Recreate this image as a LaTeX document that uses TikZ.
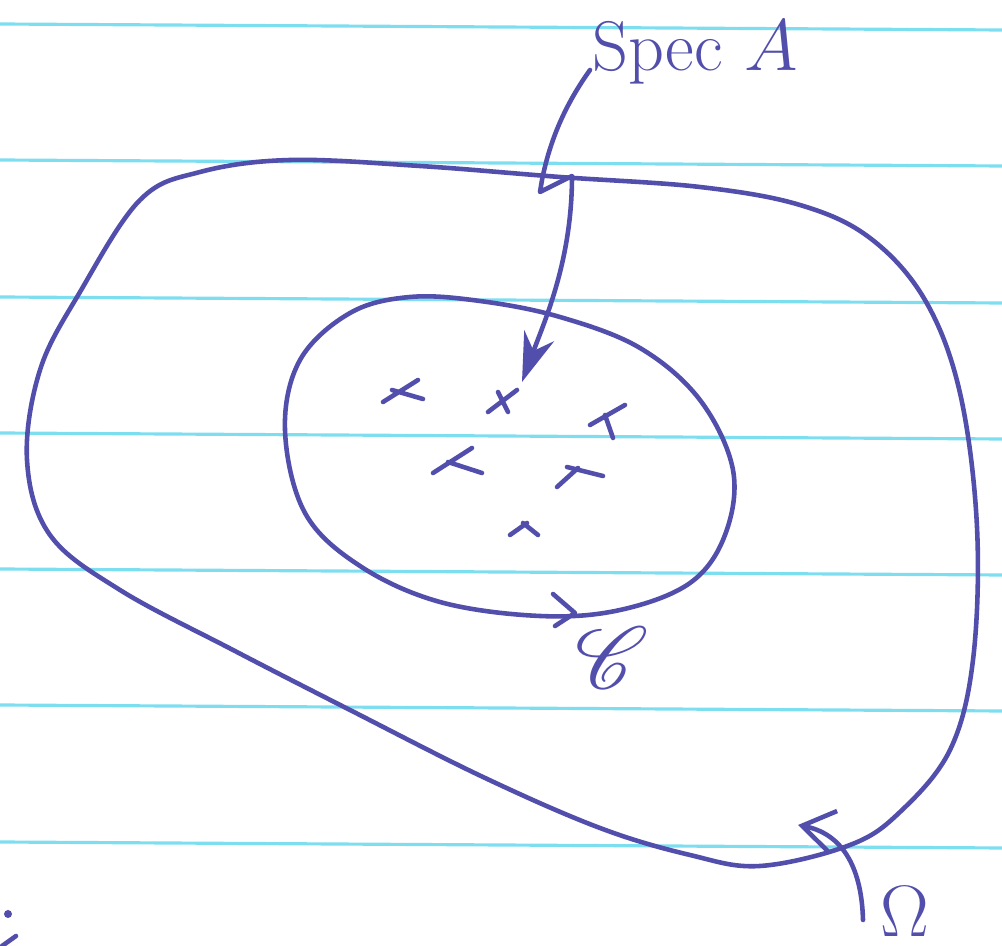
\documentclass[tikz,border=0pt]{standalone}
\usepackage{mathrsfs}
\usetikzlibrary{arrows.meta}
\definecolor{ink}{RGB}{82,78,172}
\definecolor{paperrule}{RGB}{125,222,240}
\tikzset{
  inkline/.style={draw=ink, line width=1.3pt, line cap=round, line join=round},
  paperline/.style={draw=paperrule, line width=0.9pt},
  hand/.style={text=ink, inner sep=0pt},
}
\begin{document}
\begin{tikzpicture}[x=0.01cm, y=-0.01cm]
\useasboundingbox (0,0) rectangle (1002,946);
\fill[white] (0,0) rectangle (1002,946);
% ruled paper
\foreach \yy in {27,163,300,436,572,708,845}
  \draw[paperline] (0,\yy-3) -- (1002,\yy+3);

% outer region Omega
\draw[inkline] plot[smooth cycle, tension=0.6] coordinates {
  (140,200) (200,172) (290,160) (420,166) (560,177) (700,187) (800,205)
  (870,238) (925,300) (960,393) (977,527) (973,660) (950,750) (900,812)
  (850,845) (760,866) (690,855) (600,828) (483,777) (350,710) (233,650)
  (120,590) (50,535) (27,460) (40,370) (80,292)};

% inner contour
\draw[inkline] plot[smooth cycle, tension=0.6] coordinates {
  (285,430) (300,360) (350,313) (410,297) (480,301) (560,317)
  (640,348) (700,400) (733,470) (725,535) (690,583) (620,610)
  (540,616) (440,602) (360,566) (305,513)};
% orientation chevron
\coordinate (chev) at (575,613);
\draw[inkline, shift={(chev)}] (-22,-19) -- (0,0) -- (-20,13);

% spectrum points
\coordinate (x1) at (403,392);
\coordinate (x2) at (503,402);
\coordinate (x3) at (607,420);
\coordinate (x4) at (457,462);
\coordinate (x5) at (578,475);
\coordinate (x6) at (524,529);
\draw[inkline, shift={(x1)}] (-20,10) -- (15,-12) (-11,-2) -- (20,7);
\draw[inkline, shift={(x2)}] (-15,10) -- (14,-12) (-5,-10) -- (5,10);
\draw[inkline, shift={(x3)}] (-17,5) -- (18,-15) (-2,-5) -- (6,18);
\draw[inkline, shift={(x4)}] (-24,11) -- (15,-14) (-9,0) -- (25,11);
\draw[inkline, shift={(x5)}] (-21,12) -- (0,-7) (-11,-8) -- (25,1);
\draw[inkline, shift={(x6)}] (-14,6) -- (3,-6) (-1,-6) -- (14,6);

% labels
\node[hand, font=\fontsize{20}{24}\selectfont] (spec) at (695,52) {Spec $A$};
\node[hand, font=\fontsize{26}{30}\selectfont] (cont) at (612,658) {$\mathscr{C}$};
\node[hand, font=\fontsize{21}{25}\selectfont] (omega) at (905,912) {$\Omega$};

% Spec A pointer
\coordinate (specfoot) at (590,70);
\coordinate (spectip) at (522,382);
\draw[inkline, -{Stealth[length=14pt,width=9pt]}] (specfoot)
  .. controls (565,105) and (550,140) .. (542,180) -- (540,192) -- (572,176)
  .. controls (572,260) and (545,320) .. (spectip);

% Omega pointer
\coordinate (omegafoot) at (863,920);
\coordinate (omegatip) at (798,825);
\draw[inkline, -{Straight Barb[length=9pt,width=12pt]}] (omegafoot)
  .. controls (862,880) and (850,835) .. (omegatip);

% stray mark at lower-left edge
\fill[ink] (8,914) circle (4);
\draw[inkline] (2,946) -- (16,936);
\end{tikzpicture}
\end{document}
